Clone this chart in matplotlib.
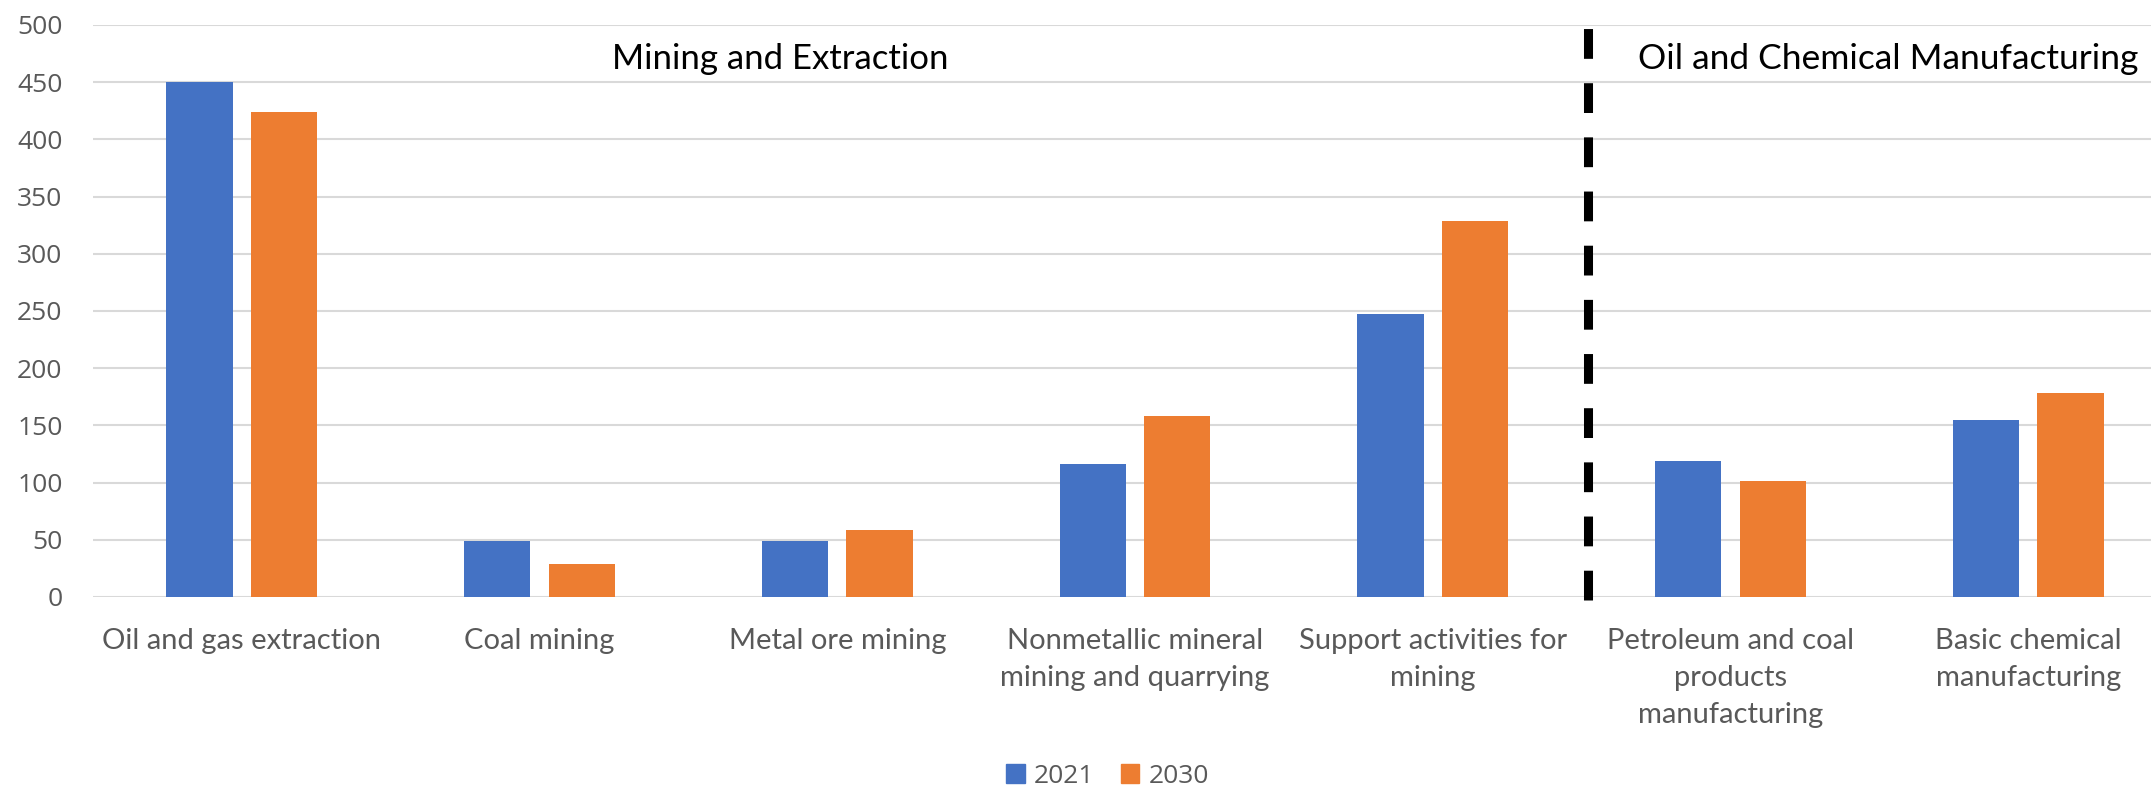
import numpy as np
import matplotlib.pyplot as plt
from matplotlib.patches import Patch

categories = [
    "Oil and gas extraction",
    "Coal mining",
    "Metal ore mining",
    "Nonmetallic mineral\nmining and quarrying",
    "Support activities for\nmining",
    "Petroleum and coal\nproducts\nmanufacturing",
    "Basic chemical\nmanufacturing",
]
values_2021 = [450, 49, 49, 116, 247, 119, 155]
values_2030 = [424, 29, 59, 158, 329, 101, 178]
series_names = ["2021", "2030"]

blue = "#4472C4"
orange = "#ED7D31"
grey = "#595959"

fig = plt.figure(figsize=(21.51, 7.92), dpi=100)
ax = fig.add_axes([93 / 2151, 1 - 597 / 792, (2177 - 93) / 2151, (597 - 25) / 792])

x = np.arange(len(categories))
w = 0.223
off = 0.142
ax.bar(x - off, values_2021, width=w, color=blue, zorder=3)
ax.bar(x + off, values_2030, width=w, color=orange, zorder=3)

ax.set_xlim(-0.5, len(categories) - 0.5)
ax.set_ylim(0, 500)
ax.set_yticks(np.arange(0, 501, 50))
ax.grid(axis="y", color="#d9d9d9", lw=1.5, zorder=0)
ax.set_axisbelow(True)
for s in ax.spines.values():
    s.set_visible(False)

ax.tick_params(axis="y", length=0, pad=22, labelsize=19, labelcolor=grey)
ax.tick_params(axis="x", length=0, pad=22, labelsize=21, labelcolor=grey)
for lab in ax.get_yticklabels():
    lab.set_fontfamily("Open Sans")
ax.set_xticks(x)
ax.set_xticklabels(categories, fontfamily="Lato", linespacing=1.54)

# section divider and headings
ax.plot([4.52, 4.52], [-3, 500], color="black", lw=6.5,
        linestyle=(0, (3.3, 2.7)), clip_on=False, zorder=4)
ax.text(1.81, 470, "Mining and Extraction", ha="center", va="center",
        fontsize=25, fontfamily="Lato", color="black")
ax.text(5.53, 470, "Oil and Chemical Manufacturing", ha="center", va="center",
        fontsize=25.5, fontfamily="Lato", color="black")

handles = [Patch(color=blue), Patch(color=orange)]
leg = fig.legend(handles, series_names, loc="center", bbox_to_anchor=(0.515, 0.02),
                 ncol=2, frameon=False, handlelength=0.7, handleheight=0.7,
                 handletextpad=0.35, columnspacing=1.0, prop={"family": "Open Sans", "size": 19})
for t in leg.get_texts():
    t.set_color(grey)

fig.savefig("out.png", dpi=100)
